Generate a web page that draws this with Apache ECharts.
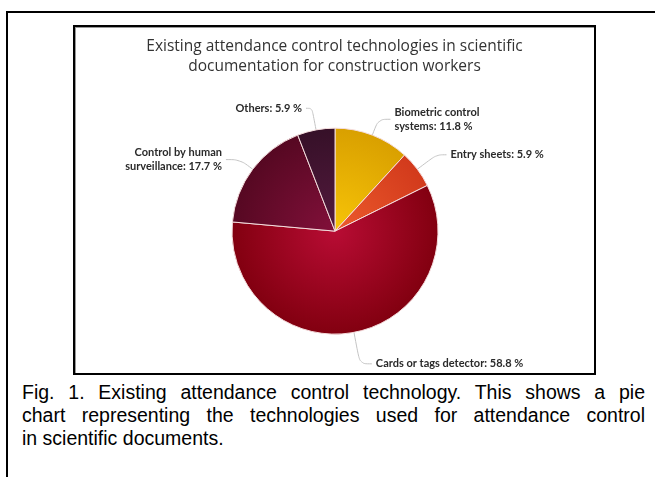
<!DOCTYPE html>
<html>
<head>
<meta charset="utf-8">
<script src="https://cdn.jsdelivr.net/npm/echarts@6/dist/echarts.min.js"></script>
<style>
  html, body { margin: 0; padding: 0; background: #fff; overflow: hidden; width: 655px; height: 477px; }
  #figure {
    position: absolute; left: 6px; top: 11px; width: 700px; height: 520px;
    border: 2px solid #000; box-sizing: border-box;
  }
  #chartBox {
    position: absolute; left: 73px; top: 25px; width: 523px; height: 350px;
    border: 2px solid #000; box-sizing: border-box;
    box-shadow: inset 1px 1px 0 #999;
  }
  #chart { width: 100%; height: 100%; }
  #caption {
    position: absolute; left: 22px; top: 381px; width: 623px;
    font-family: "Liberation Sans", Arial, sans-serif; font-size: 19.5px; line-height: 23px; color: #000;
  }
  #caption .ln { text-align: justify; text-align-last: justify; white-space: nowrap; }
  #caption .ln.last { text-align-last: left; }
</style>
</head>
<body>
<div id="figure"></div>
<div id="chartBox"><div id="chart"></div></div>
<div id="caption">
  <div class="ln">Fig. 1. Existing attendance control technology. This shows a pie</div>
  <div class="ln">chart representing the technologies used for attendance control</div>
  <div class="ln last">in scientific documents.</div>
</div>
<script>
// Share of each attendance-control technology (percent), clockwise from 12 o'clock
const categories = [
  'Biometric control\nsystems',
  'Entry sheets',
  'Cards or tags detector',
  'Control by human\nsurveillance',
  'Others'
];
const shares = [11.8, 5.9, 58.8, 17.7, 5.9];
const titleLines = [
  'Existing attendance control technologies in scientific',
  'documentation for construction workers'
];

// Slice shading: lighter toward the centre, darker at the rim
const sliceColors = [
  ['#f7c408', '#d9a000'],
  ['#ec5a2c', '#d23a1c'],
  ['#b80c34', '#820010'],
  ['#82103a', '#560822'],
  ['#541a3e', '#361028']
];
// Connector segment lengths [radial, horizontal]
const connectors = [[17, 12], [24, 10], [32, 12], [16, 14], [22, 6]];

const chart = echarts.init(document.getElementById('chart'), null, { renderer: 'canvas' });
const W = chart.getWidth(), H = chart.getHeight();
const cx = W * 0.501, cy = H * 0.59, R = 103;

const data = categories.map((name, i) => ({
  name: name,
  value: shares[i],
  itemStyle: {
    color: {
      type: 'radial', x: cx, y: cy, r: R, global: true,
      colorStops: [
        { offset: 0, color: sliceColors[i][0] },
        { offset: 1, color: sliceColors[i][1] }
      ]
    }
  },
  labelLine: { length: connectors[i][0], length2: connectors[i][1] }
}));

chart.setOption({
  animation: false,
  title: {
    text: titleLines.join('\n'),
    left: 'center',
    top: 5,
    textStyle: {
      fontFamily: '"Open Sans", "DejaVu Sans", sans-serif',
      fontSize: 15.5,
      fontWeight: 'normal',
      color: '#333',
      lineHeight: 20
    }
  },
  series: [{
    type: 'pie',
    center: [cx, cy],
    radius: R,
    startAngle: 90,
    clockwise: true,
    avoidLabelOverlap: false,
    itemStyle: { borderColor: '#f4dcdc', borderWidth: 1 },
    label: {
      show: true,
      position: 'outside',
      formatter: p => p.name + ': ' + p.value + ' %',
      fontFamily: 'Lato, "Liberation Sans", sans-serif',
      fontWeight: 'bold',
      fontSize: 11,
      lineHeight: 14,
      color: '#2a2a2a',
      distanceToLabelLine: 4
    },
    labelLine: {
      show: true,
      smooth: 0.35,
      lineStyle: { color: '#c4c4c4', width: 1 }
    },
    emphasis: { disabled: true },
    data: data
  }]
});
</script>
</body>
</html>
